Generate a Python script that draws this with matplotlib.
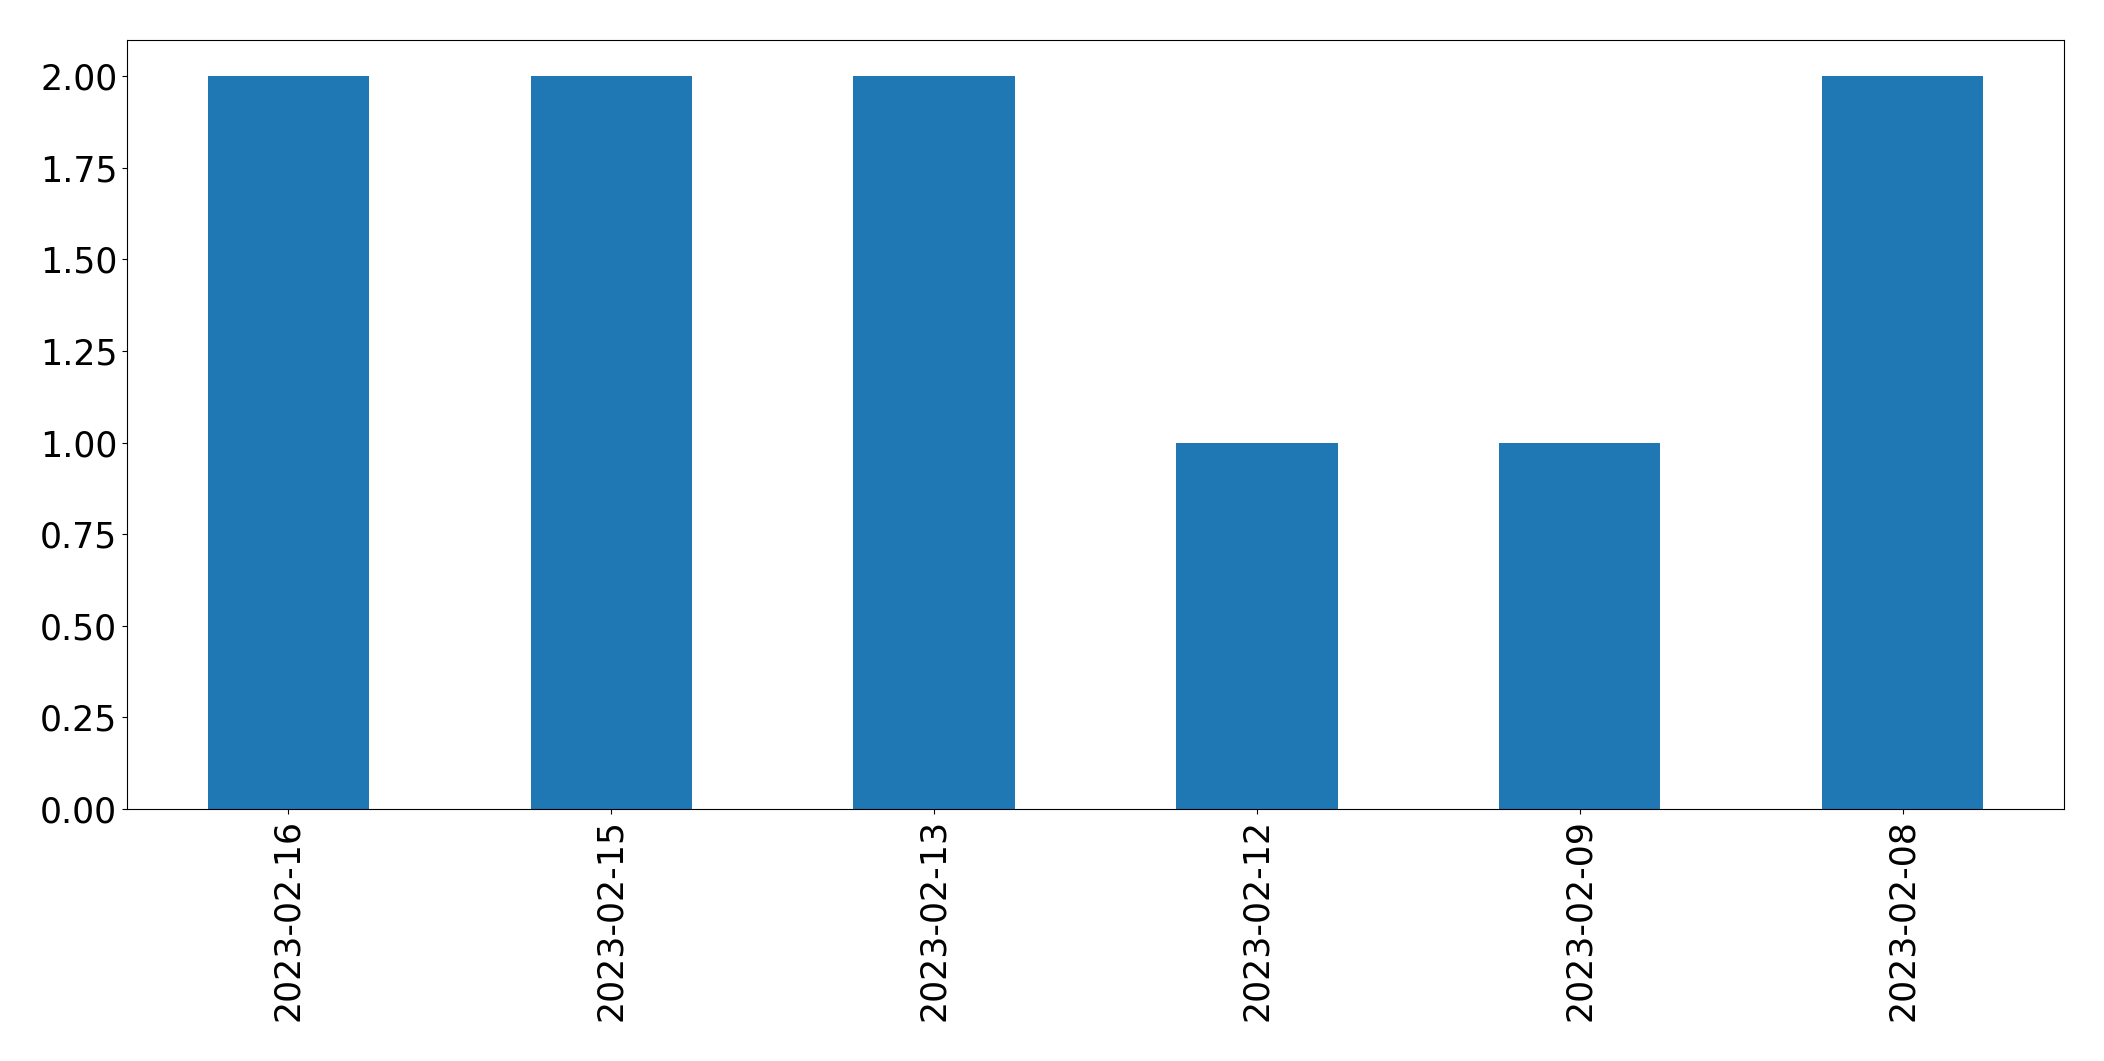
import matplotlib
matplotlib.use("Agg")
import matplotlib.pyplot as plt
import pandas as pd

dates = ["2023-02-16", "2023-02-15", "2023-02-13", "2023-02-12", "2023-02-09", "2023-02-08"]
counts = [2, 2, 2, 1, 1, 2]

series = pd.Series(counts, index=dates)

fig = plt.figure(figsize=(21.04, 10.61), dpi=100)
ax = fig.add_axes([127 / 2104, 1 - 809 / 1061, (2064 - 127) / 2104, (809 - 39.5) / 1061])
series.plot(kind="bar", ax=ax, color="#1f77b4")
ax.tick_params(axis="both", labelsize=25)
ax.set_yticks([0, 0.25, 0.5, 0.75, 1.0, 1.25, 1.5, 1.75, 2.0])
ax.set_yticklabels([f"{v:.2f}" for v in ax.get_yticks()])
fig.savefig("out.png", dpi=100)
